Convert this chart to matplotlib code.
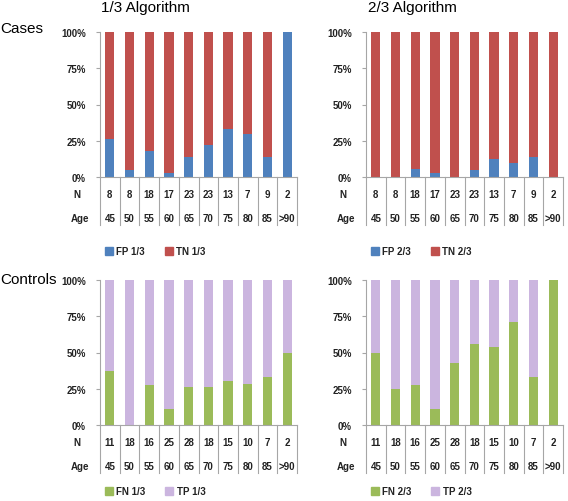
import numpy as np
import matplotlib
matplotlib.use("Agg")
import matplotlib.pyplot as plt
from matplotlib.patches import Patch

plt.rcParams['font.family'] = ['Liberation Sans', 'DejaVu Sans']

# data (percent of each age group)
ages = ["45", "50", "55", "60", "65", "70", "75", "80", "85", ">90"]
n_cases = [8, 8, 18, 17, 23, 23, 13, 7, 9, 2]
n_controls = [11, 18, 16, 25, 28, 18, 15, 10, 7, 2]

fp_13 = [26, 5, 18, 3, 14, 22, 33, 30, 14, 100]
fp_23 = [0, 0, 5.5, 3, 0, 4.5, 12.5, 9.5, 13.5, 0]
fn_13 = [37, 0, 27.5, 11, 26, 26, 30.5, 28, 33, 50]
fn_23 = [50, 24.5, 27.5, 11, 43, 56, 54, 71, 33, 100]

blue = "#4F81BD"
red = "#C0504D"
green = "#9BBB59"
lilac = "#CBB5DF"
grey = "#A6A6A6"

W, H = 568, 502
fs = 7.0
fw = "bold"
fig = plt.figure(figsize=(W / 100, H / 100), dpi=100)


def panel(left_px, bottom_px, low, low_lab, high_lab, low_col, high_col, counts, leg_off):
    ax = fig.add_axes([left_px / W, 1 - bottom_px / H, 197 / W, 145 / H])
    x = np.arange(len(ages))
    low = np.array(low, dtype=float)
    ax.bar(x, low, width=0.47, color=low_col, label=low_lab)
    ax.bar(x, 100 - low, bottom=low, width=0.47, color=high_col, label=high_lab)
    ax.set_xlim(-0.5, len(ages) - 0.5)
    ax.set_ylim(0, 100)
    ax.set_yticks([0, 25, 50, 75, 100])
    ax.set_yticklabels(["0%", "25%", "50%", "75%", "100%"], fontweight=fw)
    ax.set_xticks([])
    for s in ["top", "right"]:
        ax.spines[s].set_visible(False)
    for s in ["left", "bottom"]:
        ax.spines[s].set_color(grey)
    ax.tick_params(axis="y", colors=grey, length=3, labelsize=fs, labelcolor="#222222", pad=7)

    # data table under the plot
    tr = ax.get_xaxis_transform()
    for b in np.arange(-0.5, len(ages), 1.0):
        ax.plot([b, b], [0, -48 / 145], transform=tr, color=grey, lw=0.8, clip_on=False)
    for i in range(len(ages)):
        ax.text(i, -17 / 145, str(counts[i]), transform=tr, ha="center", va="center",
                fontsize=fs, fontweight=fw, color="#222222")
        ax.text(i, -41 / 145, ages[i], transform=tr, ha="center", va="center",
                fontsize=fs, fontweight=fw, color="#222222")
    ax.text(-23 / 197 * 10 - 0.5, -17 / 145, "N", transform=tr, ha="center", va="center",
            fontsize=fs, fontweight=fw, color="#222222")
    ax.text(-20 / 197 * 10 - 0.5, -41 / 145, "Age", transform=tr, ha="center", va="center",
            fontsize=fs, fontweight=fw, color="#222222")

    handles = [Patch(color=low_col), Patch(color=high_col)]
    leg = ax.legend(handles, [low_lab, high_lab], loc="center", bbox_to_anchor=(0.28, -leg_off / 145),
                    ncol=2, frameon=False, prop={"size": fs, "weight": fw}, handlelength=0.85,
                    handleheight=0.85, handletextpad=0.35, columnspacing=2.0, borderpad=0.1)
    for t in leg.get_texts():
        t.set_color("#222222")
    return ax


panel(100, 178, fp_13, "FP 1/3", "TN 1/3", blue, red, n_cases, 74)
panel(366, 178, fp_23, "FP 2/3", "TN 2/3", blue, red, n_cases, 74)
panel(100, 426, fn_13, "FN 1/3", "TP 1/3", green, lilac, n_controls, 66)
panel(366, 426, fn_23, "FN 2/3", "TP 2/3", green, lilac, n_controls, 66)

fig.text(145 / W, 1 - 8 / H, "1/3 Algorithm", ha="center", va="center", fontsize=11)
fig.text(412 / W, 1 - 8 / H, "2/3 Algorithm", ha="center", va="center", fontsize=11)
fig.text(0, 1 - 29 / H, "Cases", ha="left", va="center", fontsize=11)
fig.text(0, 1 - 280 / H, "Controls", ha="left", va="center", fontsize=11)

fig.savefig("out.png", dpi=100)
